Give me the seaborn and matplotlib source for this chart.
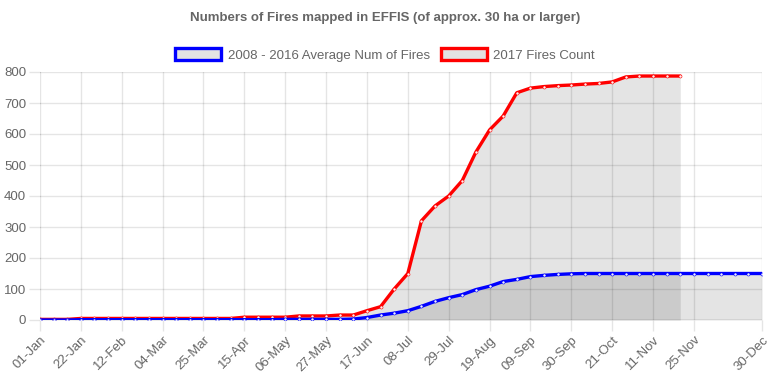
import matplotlib
matplotlib.use("Agg")
import matplotlib.pyplot as plt
from matplotlib.patches import Patch
import numpy as np
import pandas as pd
import seaborn as sns

# weekly values (index 0 = 01-Jan, one step = 7 days)
avg_2008_2016 = [0, 0, 0, 1, 1, 1, 1, 1, 1, 1, 1, 1, 1, 1, 1, 1, 1, 1, 2, 2, 2, 2, 2, 3,
                 8, 16, 22, 30, 44, 60, 72, 82, 98, 109, 124, 131, 140, 144, 147, 149,
                 150, 150, 150, 150, 150, 150, 150, 150, 150, 150, 150, 150, 150, 150]
fires_2017 = [2, 2, 2, 5, 5, 5, 5, 5, 5, 5, 5, 5, 5, 5, 5, 9, 9, 9, 9, 13, 13, 13, 16, 16,
              30, 43, 100, 150, 320, 368, 400, 450, 542, 613, 658, 733, 748, 753, 756, 758,
              761, 763, 768, 784, 787, 787, 787, 787]

tick_idx = [0, 3, 6, 9, 12, 15, 18, 21, 24, 27, 30, 33, 36, 39, 42, 45, 48, 53]
tick_labels = ['01-Jan', '22-Jan', '12-Feb', '04-Mar', '25-Mar', '15-Apr', '06-May',
               '27-May', '17-Jun', '08-Jul', '29-Jul', '19-Aug', '09-Sep', '30-Sep',
               '21-Oct', '11-Nov', '25-Nov', '30-Dec']

series_names = ['2008 - 2016 Average Num of Fires', '2017 Fires Count']
series_colors = ['#0000ff', '#ff0000']

df_avg = pd.DataFrame({'week': range(len(avg_2008_2016)), 'fires': avg_2008_2016})
df_2017 = pd.DataFrame({'week': range(len(fires_2017)), 'fires': fires_2017})

sns.set_theme(style='white')
plt.rcParams['font.family'] = ['Liberation Sans', 'DejaVu Sans']
txt = '#666666'
fs = 9.5

fig = plt.figure(figsize=(7.7, 3.85), dpi=100)
ax = fig.add_axes([40 / 770, 1 - 320 / 385, 722 / 770, 248 / 385])

# filled areas (Chart.js style default fill)
for d in (df_avg, df_2017):
    ax.fill_between(d['week'], 0, d['fires'], color='black', alpha=0.105, lw=0, zorder=1)

for d, col in zip((df_2017, df_avg), (series_colors[1], series_colors[0])):
    sns.lineplot(data=d, x='week', y='fires', color=col, linewidth=2.4, ax=ax,
                 marker='o', markersize=2.2, markerfacecolor='#f0f0ff' if col == '#0000ff' else '#fff0f0',
                 markeredgecolor=col, markeredgewidth=0.4, zorder=3)

ax.set_xlim(0, 53)
ax.set_ylim(0, 800)
ax.set_yticks(range(0, 801, 100))
ax.set_xticks(tick_idx)
ax.set_xticklabels(tick_labels, rotation=45, ha='right', rotation_mode='anchor')
ax.set_xlabel('')
ax.set_ylabel('')

ax.grid(True, color='black', alpha=0.1, linewidth=1)
ax.set_axisbelow(True)
for s in ax.spines.values():
    s.set_visible(False)
ax.axhline(0, color='black', alpha=0.25, linewidth=1, zorder=2)
ax.tick_params(axis='both', colors=(0, 0, 0, 0.1), labelcolor=txt, labelsize=fs,
               length=8, width=1, pad=2, left=True, bottom=True)

fig.text(0.5, 1 - 18 / 385, 'Numbers of Fires mapped in EFFIS (of approx. 30 ha or larger)',
         ha='center', va='center', fontsize=fs, fontweight='bold', color=txt)

handles = [Patch(facecolor='#e3e3e3', edgecolor=c, linewidth=2.4) for c in series_colors]
fig.legend(handles, series_names, loc='center', bbox_to_anchor=(0.5, 1 - 55 / 385),
           ncol=2, frameon=False, fontsize=fs, labelcolor=txt, handlelength=3.5,
           handleheight=0.95, handletextpad=0.5, columnspacing=0.8)

fig.savefig('out.png', dpi=100)
